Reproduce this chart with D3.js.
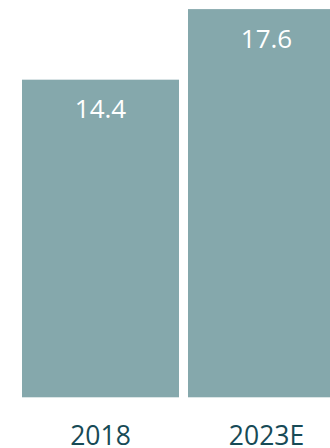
<!DOCTYPE html>
<html>
<head>
<meta charset="utf-8">
<script src="https://cdn.jsdelivr.net/npm/d3@7"></script>
<style>
  html, body { margin: 0; padding: 0; background: #fff; overflow: hidden; }
  svg { display: block; }
</style>
</head>
<body>
<svg id="chart" width="330" height="448"></svg>
<script>
// Market size by year
const categories = ["2018", "2023E"];
const values = [14.4, 17.6];
const valueLabels = ["14.4", "17.6"];

const width = 330, height = 448;
const baseline = 397.3;
const svg = d3.select("#chart");

const x = d3.scaleBand()
  .domain(categories)
  .range([22, 345])
  .paddingInner(0.0542)
  .paddingOuter(0);

const y = d3.scaleLinear()
  .domain([0, 17.6])
  .range([baseline, 9.1]);

const barColor = "#85A8AC";
const font = "'Open Sans', sans-serif";

svg.selectAll("rect.bar")
  .data(values)
  .join("rect")
  .attr("class", "bar")
  .attr("x", (d, i) => x(categories[i]))
  .attr("y", d => y(d))
  .attr("width", x.bandwidth())
  .attr("height", d => baseline - y(d))
  .attr("fill", barColor);

// value labels inside the top of each bar
svg.selectAll("text.value")
  .data(values)
  .join("text")
  .attr("class", "value")
  .attr("x", (d, i) => x(categories[i]) + x.bandwidth() / 2)
  .attr("y", d => y(d) + 38.5)
  .attr("text-anchor", "middle")
  .attr("font-family", font)
  .attr("font-size", "26px")
  .attr("fill", "#ffffff")
  .text((d, i) => valueLabels[i]);

// category axis below the bars
const axis = svg.append("g")
  .attr("transform", `translate(0,${baseline})`)
  .call(d3.axisBottom(x).tickSize(0).tickPadding(28.5));
axis.select(".domain").remove();
axis.selectAll("text")
  .attr("font-family", font)
  .attr("font-size", "26.5px")
  .attr("fill", "#174A56")
  .attr("dy", "0.71em");
</script>
</body>
</html>
